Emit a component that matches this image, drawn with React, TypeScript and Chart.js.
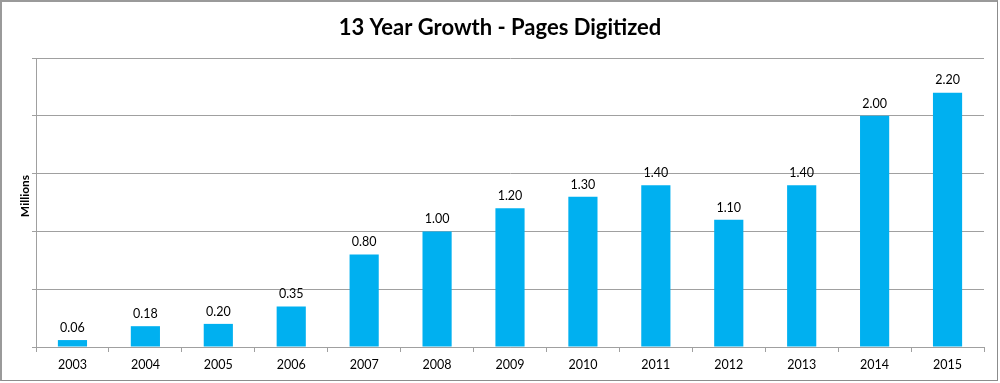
import React, { useEffect, useRef } from "react";
import { Chart, registerables } from "chart.js";

Chart.register(...registerables);

const categories = ["2003", "2004", "2005", "2006", "2007", "2008", "2009", "2010", "2011", "2012", "2013", "2014", "2015"];
const pagesDigitized = [0.06, 0.18, 0.2, 0.35, 0.8, 1.0, 1.2, 1.3, 1.4, 1.1, 1.4, 2.0, 2.2];
const chartTitle = "13 Year Growth - Pages Digitized";
const yAxisTitle = "Millions";

const FONT = "Lato, 'Open Sans', sans-serif";

const decorPlugin = {
  id: "decor",
  afterDatasetsDraw(chart: any) {
    const ctx = chart.ctx;
    const meta = chart.getDatasetMeta(0);
    ctx.save();
    ctx.fillStyle = "#000";
    ctx.font = `12.5px ${FONT}`;
    ctx.textAlign = "center";
    ctx.textBaseline = "bottom";
    meta.data.forEach((bar: any, i: number) => {
      ctx.fillText(pagesDigitized[i].toFixed(2), bar.x, bar.y - 6);
    });
    // title
    ctx.font = `bold 22px ${FONT}`;
    ctx.textBaseline = "middle";
    ctx.fillText(chartTitle, 500, 28);
    // y axis title
    ctx.translate(25, 196);
    ctx.rotate(-Math.PI / 2);
    ctx.font = `bold 12px ${FONT}`;
    ctx.fillText(yAxisTitle, 0, 0);
    ctx.restore();
  },
};

export default function App() {
  const ref = useRef<HTMLCanvasElement>(null);
  useEffect(() => {
    if (!ref.current) return;
    const chart = new Chart(ref.current, {
      type: "bar",
      data: {
        labels: categories,
        datasets: [
          {
            data: pagesDigitized,
            backgroundColor: "#00B0F0",
            borderWidth: 0,
            barPercentage: 0.4,
            categoryPercentage: 1,
          },
        ],
      },
      options: {
        responsive: false,
        animation: false,
        maintainAspectRatio: false,
        layout: { padding: { left: 0, right: 16, top: 58, bottom: 0 } },
        plugins: { legend: { display: false }, tooltip: { enabled: false }, title: { display: false } },
        scales: {
          x: {
            grid: { drawOnChartArea: false, drawTicks: true, tickLength: 5, color: "#a0a0a0", offset: true },
            border: { color: "#a0a0a0" },
            ticks: { color: "#000", font: { family: FONT, size: 12.5 }, padding: 5, maxRotation: 0 },
            afterFit: (s: any) => { s.height = 36; },
          },
          y: {
            min: 0,
            max: 2.5,
            ticks: { stepSize: 0.5, display: false },
            grid: { color: "#a0a0a0", tickLength: 4 },
            border: { color: "#a0a0a0" },
            afterFit: (s: any) => { s.width = 36; },
          },
        },
      },
      plugins: [decorPlugin],
    });
    return () => chart.destroy();
  }, []);
  return (
    <div style={{ position: "fixed", left: 0, top: 0, width: 1000, height: 383, background: "#fff" }}>
      <canvas ref={ref} width={1000} height={383} style={{ display: "block" }} />
      <div
        style={{
          position: "absolute",
          left: 0,
          top: 0,
          width: 998,
          height: 381,
          boxSizing: "border-box",
          border: "1px solid #8c8c8c",
          borderLeft: "2px solid #9a9a9a",
          borderTop: "2px solid #9a9a9a",
          pointerEvents: "none",
        }}
      />
    </div>
  );
}
